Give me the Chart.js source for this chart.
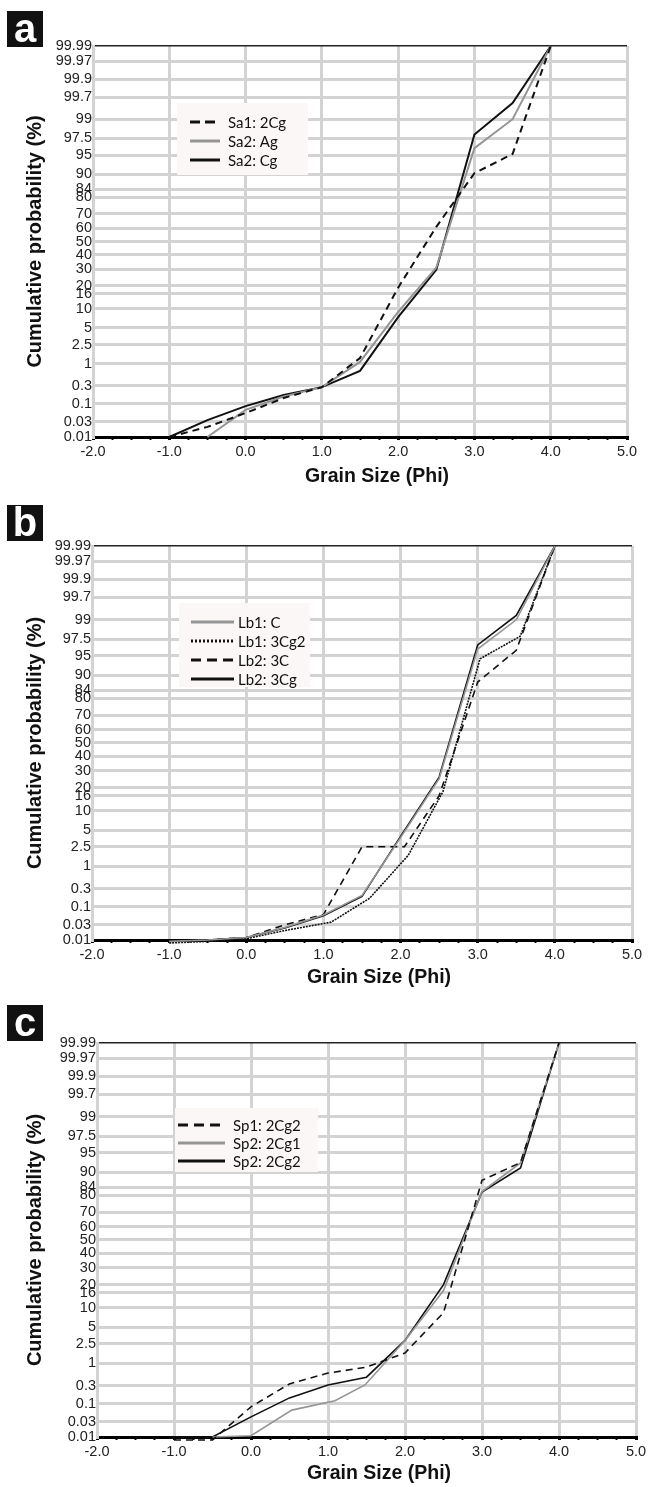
<!DOCTYPE html>
<html>
<head>
<meta charset="utf-8">
<script src="https://cdn.jsdelivr.net/npm/chart.js@4.4.0/dist/chart.umd.min.js"></script>
<style>
  body { margin: 0; background: #fff; width: 651px; height: 1487px; position: relative; overflow: hidden; }
  .panel { position: absolute; left: 0; width: 651px; }
  .panel canvas { display: block; }
  .tag {
    position: absolute; left: 7px; width: 36px; height: 36px; background: #111; color: #fff;
    font: bold 40px "Liberation Sans", Arial, sans-serif; text-align: center; line-height: 35px;
  }
</style>
</head>
<body>
<div class="panel" style="top:0px;height:495px"><canvas id="chart_a" width="651" height="495"></canvas></div>
<div class="panel" style="top:500px;height:495px"><canvas id="chart_b" width="651" height="495"></canvas></div>
<div class="panel" style="top:997px;height:490px"><canvas id="chart_c" width="651" height="490"></canvas></div>
<div class="tag" style="top:11px">a</div>
<div class="tag" style="top:505px">b</div>
<div class="tag" style="top:1005px">c</div>

<script>
// AXIS LABELS
const prob_ticks = ['0.01', '0.03', '0.1', '0.3', '1', '2.5', '5', '10', '16', '20', '30', '40', '50',
  '60', '70', '80', '84', '90', '95', '97.5', '99', '99.7', '99.9', '99.97', '99.99'];
const phi_min = -2.0, phi_max = 5.0;

// PANEL A - cumulative %
const sa1_2cg_phi = [-1.0, -0.5, 0.0, 0.5, 1.0, 1.5, 2.0, 2.5, 3.0, 3.5, 4.0];
const sa1_2cg = [0.01, 0.021, 0.055, 0.145, 0.28, 1.33, 19, 61, 90.3, 95.2, 99.99];
const sa2_ag_phi = [-0.5, 0.0, 0.5, 1.0, 1.5, 2.0, 2.5, 3.0, 3.5, 4.0];
const sa2_ag = [0.01, 0.068, 0.16, 0.28, 1.1, 9, 31, 96.2, 99.0, 99.99];
const sa2_cg_phi = [-1.0, -0.5, 0.0, 0.5, 1.0, 1.5, 2.0, 2.5, 3.0, 3.5, 4.0];
const sa2_cg = [0.01, 0.034, 0.087, 0.175, 0.28, 0.69, 7.5, 29.5, 97.9, 99.58, 99.99];

// PANEL B
const lb1_c_phi = [-1.0, -0.5, 0.0, 0.5, 1.0, 1.5, 2.0, 2.5, 3.0, 3.5, 4.0];
const lb1_c = [0.009, 0.01, 0.012, 0.025, 0.058, 0.2, 3.7, 25, 96.2, 99.0, 99.99];
const lb1_3cg2_phi = [-1.0, -0.5, 0.0, 0.5, 1.1, 1.6, 2.1, 2.55, 3.03, 3.55, 4.0];
const lb1_3cg2 = [0.008, 0.009, 0.011, 0.02, 0.036, 0.17, 1.7, 18, 94.4, 97.8, 99.99];
const lb2_3c_phi = [-1.0, -0.5, 0.0, 0.5, 1.0, 1.5, 2.05, 2.5, 3.0, 3.5, 4.0];
const lb2_3c = [0.009, 0.01, 0.012, 0.03, 0.06, 2.5, 2.5, 16, 87.5, 96, 99.99];
const lb2_3cg_phi = [-1.0, -0.5, 0.0, 0.5, 1.0, 1.5, 2.0, 2.5, 3.0, 3.5, 4.0];
const lb2_3cg = [0.009, 0.01, 0.012, 0.024, 0.055, 0.19, 3.9, 26, 96.8, 99.2, 99.99];

// PANEL C
const sp1_2cg2_phi = [-1.0, -0.5, 0.0, 0.5, 1.0, 1.5, 2.0, 2.5, 3.0, 3.5, 4.0];
const sp1_2cg2 = [0.008, 0.008, 0.082, 0.33, 0.6, 0.82, 1.65, 8.5, 87, 92.8, 99.99];
const sp2_2cg1_phi = [-0.5, 0.0, 0.53, 1.09, 1.48, 2.0, 2.5, 3.0, 3.5, 4.0];
const sp2_2cg1 = [0.01, 0.011, 0.066, 0.12, 0.31, 2.9, 17, 82, 92.7, 99.99];
const sp2_2cg2_phi = [-1.0, -0.5, 0.0, 0.5, 1.0, 1.5, 2.0, 2.5, 3.0, 3.5, 4.0];
const sp2_2cg2 = [0.01, 0.01, 0.042, 0.144, 0.31, 0.48, 2.9, 20, 81.7, 91.3, 99.99];

// probability paper: % -> standard normal quantile (Acklam)
function probit(pct) {
  const p = pct / 100;
  const a = [-3.969683028665376e+01, 2.209460984245205e+02, -2.759285104469687e+02, 1.383577518672690e+02, -3.066479806614716e+01, 2.506628277459239e+00];
  const b = [-5.447609879822406e+01, 1.615858368580409e+02, -1.556989798598866e+02, 6.680131188771972e+01, -1.328068155288572e+01];
  const c = [-7.784894002430293e-03, -3.223964580411365e-01, -2.400758277161838e+00, -2.549732539343734e+00, 4.374664141464968e+00, 2.938163982698783e+00];
  const d = [7.784695709041462e-03, 3.224671290700398e-01, 2.445134137142996e+00, 3.754408661907416e+00];
  let q, r;
  if (p < 0.02425) {
    q = Math.sqrt(-2 * Math.log(p));
    return (((((c[0] * q + c[1]) * q + c[2]) * q + c[3]) * q + c[4]) * q + c[5]) / ((((d[0] * q + d[1]) * q + d[2]) * q + d[3]) * q + 1);
  }
  if (p > 1 - 0.02425) {
    q = Math.sqrt(-2 * Math.log(1 - p));
    return -(((((c[0] * q + c[1]) * q + c[2]) * q + c[3]) * q + c[4]) * q + c[5]) / ((((d[0] * q + d[1]) * q + d[2]) * q + d[3]) * q + 1);
  }
  q = p - 0.5; r = q * q;
  return (((((a[0] * r + a[1]) * r + a[2]) * r + a[3]) * r + a[4]) * r + a[5]) * q / (((((b[0] * r + b[1]) * r + b[2]) * r + b[3]) * r + b[4]) * r + 1);
}

function points(xs, ys) {
  return xs.map((x, i) => ({ x: x, y: probit(ys[i]) }));
}

const GRID = '#d3d3d3';
const TICK_FONT = { family: '"Liberation Sans", Arial, sans-serif', size: 14.5 };
const TITLE_FONT = { family: '"Liberation Sans", Arial, sans-serif', size: 20, weight: 'bold' };

// legend box drawn inside the plot, like the original
const boxLegend = {
  id: 'boxLegend',
  beforeDatasetsDraw(chart, args, o) {
    const ctx = chart.ctx;
    ctx.save();
    ctx.fillStyle = '#fbf7f7';
    ctx.fillRect(o.x, o.y, o.w, o.h);
    chart.data.datasets.forEach((ds, i) => {
      const cy = o.y + o.first + i * o.row;
      ctx.beginPath();
      ctx.setLineDash(ds.legendDash || []);
      ctx.strokeStyle = ds.borderColor;
      ctx.lineWidth = 3;
      ctx.moveTo(o.x + o.sample, cy);
      ctx.lineTo(o.x + o.sample + o.len, cy);
      ctx.stroke();
      ctx.setLineDash([]);
      ctx.fillStyle = '#111';
      ctx.font = '15px Lato, "Liberation Sans", sans-serif';
      ctx.textBaseline = 'middle';
      ctx.fillText(ds.label, o.x + o.text, cy + 1);
    });
    ctx.restore();
  }
};

// x axis caption (sits a little right of the plot centre in the original)
const xCaption = {
  id: 'xCaption',
  afterDraw(chart, args, o) {
    const ctx = chart.ctx;
    ctx.save();
    ctx.font = 'bold 19.5px "Liberation Sans", Arial, sans-serif';
    ctx.fillStyle = '#111';
    ctx.textAlign = 'center';
    ctx.textBaseline = 'middle';
    ctx.fillText('Grain Size (Phi)', o.x, o.y);
    ctx.restore();
  }
};

function makeChart(id, datasets, box, legend) {
  const canvas = document.getElementById(id);
  const zmin = probit(0.01), zmax = probit(99.99);
  datasets.forEach(ds => { ds.clip = { left: 2, right: 2, top: 2, bottom: 6 }; });
  return new Chart(canvas.getContext('2d'), {
    type: 'line',
    data: { datasets: datasets },
    plugins: [boxLegend, xCaption],
    options: {
      responsive: false,
      animation: false,
      events: [],
      layout: { padding: { top: box.top, right: 651 - box.right, left: 0, bottom: 0 } },
      elements: { point: { radius: 0 }, line: { tension: 0 } },
      plugins: {
        legend: { display: false },
        tooltip: { enabled: false },
        boxLegend: legend,
        xCaption: { x: box.capX, y: box.capY },
      },
      scales: {
        x: {
          type: 'linear',
          min: phi_min,
          max: phi_max,
          afterFit: s => { s.height = canvas.height - box.bottom; },
          ticks: {
            stepSize: 0.25,
            autoSkip: false,
            maxRotation: 0,
            padding: 3,
            color: '#222',
            font: TICK_FONT,
            callback: v => (Number.isInteger(v) ? v.toFixed(1) : ''),
          },
          grid: {
            color: c => (c.tick && Number.isInteger(c.tick.value) ? GRID : 'rgba(0,0,0,0)'),
            lineWidth: 3,
            tickColor: '#000',
            tickLength: 3,
            tickWidth: c => (c.tick && Number.isInteger(c.tick.value) ? 3 : 2),
          },
          border: { color: '#000', width: 2 },
        },
        y: {
          type: 'linear',
          min: zmin,
          max: zmax,
          afterFit: s => { s.width = box.left; },
          afterBuildTicks: s => { s.ticks = prob_ticks.map(t => ({ value: probit(+t) })); },
          ticks: {
            autoSkip: false,
            padding: 1,
            color: '#222',
            font: TICK_FONT,
            callback: (v, i) => prob_ticks[i],
          },
          grid: {
            drawTicks: false,
            color: c => (c.index === prob_ticks.length - 1 ? '#222' : c.index === 0 ? '#000' : GRID),
            lineWidth: c => (c.index === prob_ticks.length - 1 ? 1.5 : 3),
          },
          border: { color: GRID, width: 3 },
          title: {
            display: true,
            text: 'Cumulative probability (%)',
            color: '#111',
            font: TITLE_FONT,
            padding: { top: 23, bottom: 0 },
          },
        },
      },
    },
  });
}

const BLACK = '#111', GREY = '#959595';

makeChart('chart_a', [
  { label: 'Sa1: 2Cg', data: points(sa1_2cg_phi, sa1_2cg), borderColor: BLACK, borderWidth: 2, borderDash: [7, 5], legendDash: [10, 5] },
  { label: 'Sa2: Ag', data: points(sa2_ag_phi, sa2_ag), borderColor: GREY, borderWidth: 2 },
  { label: 'Sa2: Cg', data: points(sa2_cg_phi, sa2_cg), borderColor: BLACK, borderWidth: 2 },
], { top: 46, bottom: 437, left: 93, right: 627, capX: 377, capY: 477 },
{ x: 177, y: 103, w: 131, h: 72, first: 19, row: 19, sample: 13, len: 30, text: 51 });

makeChart('chart_b', [
  { label: 'Lb1: C', data: points(lb1_c_phi, lb1_c), borderColor: GREY, borderWidth: 1.6 },
  { label: 'Lb1: 3Cg2', data: points(lb1_3cg2_phi, lb1_3cg2), borderColor: BLACK, borderWidth: 1.6, borderDash: [2, 1], legendDash: [2, 2] },
  { label: 'Lb2: 3C', data: points(lb2_3c_phi, lb2_3c), borderColor: BLACK, borderWidth: 1.6, borderDash: [7, 5], legendDash: [10, 6] },
  { label: 'Lb2: 3Cg', data: points(lb2_3cg_phi, lb2_3cg), borderColor: BLACK, borderWidth: 1.6 },
], { top: 46, bottom: 440, left: 92, right: 632, capX: 379, capY: 478 },
{ x: 179, y: 103, w: 131, h: 84, first: 19, row: 19, sample: 12, len: 43, text: 59 });

makeChart('chart_c', [
  { label: 'Sp1: 2Cg2', data: points(sp1_2cg2_phi, sp1_2cg2), borderColor: BLACK, borderWidth: 1.6, borderDash: [7, 5], legendDash: [10, 6] },
  { label: 'Sp2: 2Cg1', data: points(sp2_2cg1_phi, sp2_2cg1), borderColor: GREY, borderWidth: 1.6 },
  { label: 'Sp2: 2Cg2', data: points(sp2_2cg2_phi, sp2_2cg2), borderColor: BLACK, borderWidth: 1.6 },
], { top: 46, bottom: 440, left: 97, right: 636, capX: 379, capY: 477 },
{ x: 175, y: 111, w: 143, h: 64, first: 17, row: 18, sample: 3, len: 47, text: 58 });
</script>
</body>
</html>
